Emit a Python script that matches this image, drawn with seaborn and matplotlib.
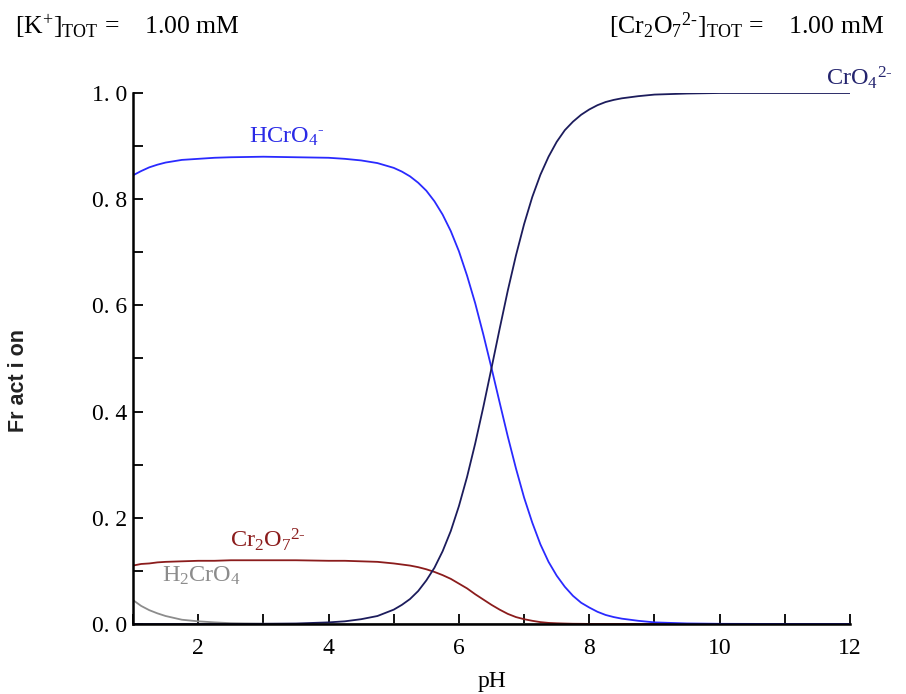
import numpy as np
import pandas as pd
import matplotlib
matplotlib.use("Agg")
import matplotlib.pyplot as plt
import seaborn as sns
from matplotlib.ticker import MultipleLocator, FixedLocator, FuncFormatter

# values (fraction of total Cr)
ph = [1, 1.125, 1.25, 1.375, 1.5, 1.75, 2, 2.25, 2.5, 3, 3.5, 4, 4.25, 4.5, 4.75, 5,
      5.125, 5.25, 5.375, 5.5, 5.625, 5.75, 5.875, 6, 6.125, 6.25, 6.375, 6.5, 6.625, 6.75,
      6.875, 7, 7.125, 7.25, 7.375, 7.5, 7.625, 7.75, 7.875, 8, 8.125, 8.25, 8.375, 8.5,
      8.75, 9, 9.5, 10, 11, 12]
hcro4 = [0.845, 0.853, 0.860, 0.865, 0.869, 0.874, 0.876, 0.878, 0.879, 0.880, 0.879, 0.878,
         0.876, 0.873, 0.868, 0.859, 0.852, 0.843, 0.831, 0.816, 0.796, 0.771, 0.740, 0.702,
         0.656, 0.604, 0.545, 0.482, 0.417, 0.353, 0.293, 0.238, 0.191, 0.150, 0.117, 0.091,
         0.070, 0.053, 0.040, 0.031, 0.023, 0.017, 0.013, 0.010, 0.006, 0.003, 0.001, 0.0003,
         0.0, 0.0]
cro4 = [0, 0, 0, 0, 0, 0, 0, 0, 0, 0.0003, 0.0009, 0.003, 0.005, 0.009, 0.015, 0.027,
        0.036, 0.047, 0.062, 0.082, 0.106, 0.137, 0.175, 0.222, 0.277, 0.340, 0.409, 0.482,
        0.556, 0.628, 0.694, 0.753, 0.804, 0.846, 0.880, 0.908, 0.930, 0.946, 0.959, 0.969,
        0.977, 0.983, 0.987, 0.990, 0.994, 0.997, 0.999, 1.0, 1.0, 1.0]
cr2o7 = [0.110, 0.113, 0.114, 0.116, 0.117, 0.118, 0.119, 0.119, 0.120, 0.120, 0.120, 0.119,
         0.119, 0.118, 0.117, 0.114, 0.112, 0.110, 0.107, 0.103, 0.098, 0.092, 0.085, 0.076,
         0.067, 0.056, 0.046, 0.036, 0.027, 0.019, 0.013, 0.009, 0.006, 0.0035, 0.002, 0.0013,
         0.0008, 0.0004, 0.0003, 0.0001] + [0] * 10
h2cro4 = [0.045, 0.034, 0.026, 0.020, 0.015, 0.008, 0.005, 0.003, 0.0015, 0.0005, 0.00015,
          0.00005] + [0] * 38

sns.set_theme(style="ticks")
plt.rcParams['font.family'] = ['Liberation Serif', 'DejaVu Serif']
plt.rcParams['mathtext.fontset'] = 'custom'
plt.rcParams['mathtext.rm'] = 'Liberation Serif'
plt.rcParams['mathtext.it'] = 'Liberation Serif:italic'
plt.rcParams['mathtext.bf'] = 'Liberation Serif:bold'
for k in ['text.color', 'axes.labelcolor', 'xtick.color', 'ytick.color']:
    plt.rcParams[k] = 'black'

fig = plt.figure(figsize=(9.06, 6.94), dpi=100)
ax = fig.add_axes([0.1468, 0.1009, 0.7914, 0.7651])

series = [(h2cro4, "#8c8c8c"), (cr2o7, "#8b1c1c"), (hcro4, "#2a2aff"), (cro4, "#1c1c5c")]
for vals, col in series:
    sns.lineplot(x=ph, y=vals, color=col, linewidth=1.3, ax=ax, zorder=2)

ax.set_xlim(1, 12)
ax.set_ylim(0, 1.0)
sns.despine(ax=ax)
for s in ["left", "bottom"]:
    ax.spines[s].set_linewidth(1.8)
    ax.spines[s].set_color("black")
    ax.spines[s].set_zorder(5)

ax.xaxis.set_major_locator(FixedLocator([2, 4, 6, 8, 10, 12]))
ax.xaxis.set_minor_locator(MultipleLocator(1))
ax.yaxis.set_major_locator(MultipleLocator(0.2))
ax.yaxis.set_minor_locator(MultipleLocator(0.1))
ax.yaxis.set_major_formatter(FuncFormatter(lambda v, _: f"{v:.1f}".replace(".", ". ")))
ax.tick_params(which="both", direction="in", length=7, width=1.3, color="black")
ax.tick_params(axis="x", which="major", labelsize=17, pad=10)
ax.tick_params(axis="y", which="major", labelsize=17, pad=4)
ax.grid(False)

ax.set_xlabel("pH", fontsize=17, labelpad=9)
fig.text(19 / 906, 1 - 381 / 694, "Fr act i on", family="Liberation Sans", fontsize=15.5,
         fontweight="bold", color="#222222", rotation=90, ha="center", va="center")

fig.text(15 / 906, 1 - 34 / 694, r"[K$^{+}$]$_{\mathrm{TOT}}$ =    1.00 mM", fontsize=18.5,
         ha="left", va="baseline")
fig.text(884 / 906, 1 - 34 / 694,
         r"[Cr$_{2}$O$_{7}$$^{2\text{-}}$]$_{\mathrm{TOT}}$ =    1.00 mM",
         fontsize=18.5, ha="right", va="baseline")

ax.text(2.78, 0.906, r"HCrO$_{4}$$^{\text{-}}$", color="#2a2ae6", fontsize=17.5, ha="left",
        va="baseline")
ax.text(11.63, 1.015, r"CrO$_{4}$$^{2\text{-}}$", color="#24246e", fontsize=17.5, ha="left",
        va="baseline", clip_on=False)
ax.text(2.49, 0.145, r"Cr$_{2}$O$_{7}$$^{2\text{-}}$", color="#8b1c1c", fontsize=17.5,
        ha="left", va="baseline")
ax.text(1.445, 0.079, r"H$_{2}$CrO$_{4}$", color="#8c8c8c", fontsize=17.5, ha="left",
        va="baseline")

fig.savefig("out.png", dpi=100)
